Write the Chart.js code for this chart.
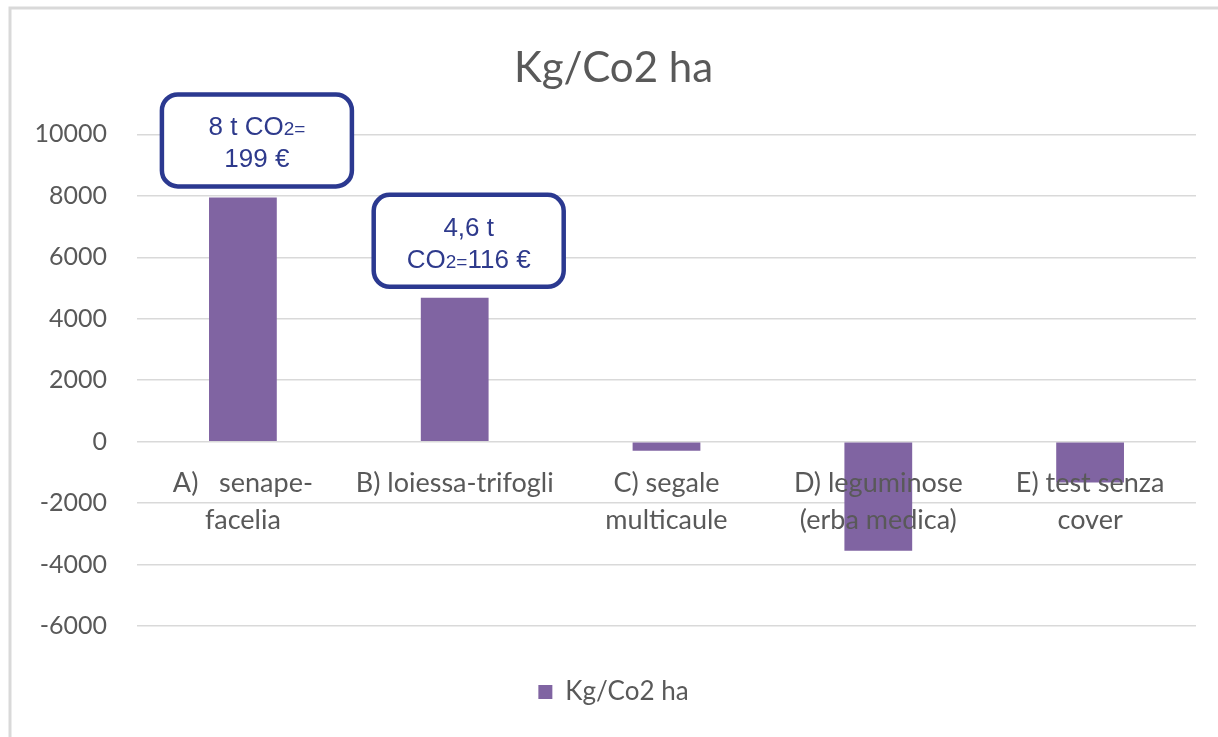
<!DOCTYPE html>
<html>
<head>
<meta charset="utf-8">
<script src="https://cdn.jsdelivr.net/npm/chart.js@4/dist/chart.umd.min.js"></script>
<style>
  html, body { margin: 0; padding: 0; background: #ffffff; }
  #wrap { width: 1218px; height: 737px; }
</style>
</head>
<body>
<div id="wrap"><canvas id="c" width="1218" height="737"></canvas></div>
<script>
// ---- data ----
const chartTitle = 'Kg/Co2 ha';
const seriesName = 'Kg/Co2 ha';
const categories = [
  ['A)   senape-', 'facelia'],
  'B) loiessa-trifogli',
  ['C) segale', 'multicaule'],
  ['D) leguminose', '(erba medica)'],
  ['E) test senza', 'cover']
];
const values = [7950, 4680, -300, -3550, -1330];
const yMin = -6000;
const yMax = 10000;
const yStep = 2000;
// callout text for bars (bar index, lines; each line = segments [text, isSmall])
const calloutBars = [0, 1];
const calloutLines = [
  [[['8 t CO', 0], ['2=', 1]], [['199 €', 0]]],
  [[['4,6 t', 0]], [['CO', 0], ['2=', 1], ['116 €', 0]]]
];

const GRAY = '#595959';
const FONT = 'Lato, "Open Sans", sans-serif';

const frame = {
  id: 'frame',
  beforeDraw(chart) {
    const ctx = chart.ctx;
    ctx.save();
    ctx.fillStyle = '#ffffff';
    ctx.fillRect(0, 0, chart.width, chart.height);
    ctx.strokeStyle = '#d9d9d9';
    ctx.lineWidth = 3;
    ctx.strokeRect(10, 8, chart.width + 40, chart.height + 40);
    ctx.restore();
  }
};

const callouts = {
  id: 'callouts',
  afterDraw(chart) {
    const ctx = chart.ctx;
    const meta = chart.getDatasetMeta(0);
    ctx.save();
    calloutBars.forEach((bi, k) => {
      const bar = meta.data[bi];
      const w = 190, h = 92;
      const cx = bar.x + 14;
      const bottom = bar.y - 11;
      const top = bottom - h;
      ctx.beginPath();
      ctx.roundRect(cx - w / 2, top, w, h, 16);
      ctx.fillStyle = '#ffffff';
      ctx.fill();
      ctx.lineWidth = 4.5;
      ctx.strokeStyle = '#2B3990';
      ctx.stroke();
      ctx.fillStyle = '#2E3A8C';
      ctx.textBaseline = 'alphabetic';
      ctx.textAlign = 'left';
      calloutLines[k].forEach((line, li) => {
        const big = '26px "Liberation Sans", Arial, sans-serif';
        const small = '19px "Liberation Sans", Arial, sans-serif';
        let total = 0;
        line.forEach(([t, s]) => { ctx.font = s ? small : big; total += ctx.measureText(t).width; });
        let x = cx - total / 2;
        const y = top + 41 + li * 32;
        line.forEach(([t, s]) => {
          ctx.font = s ? small : big;
          ctx.fillText(t, x, y);
          x += ctx.measureText(t).width;
        });
      });
    });
    ctx.restore();
  }
};

new Chart(document.getElementById('c'), {
  type: 'bar',
  data: {
    labels: categories,
    datasets: [{
      label: seriesName,
      data: values,
      backgroundColor: '#8064A2',
      borderWidth: 0,
      categoryPercentage: 1,
      barPercentage: 0.32
    }]
  },
  options: {
    responsive: false,
    devicePixelRatio: 1,
    animation: false,
    layout: { padding: { left: 31, right: 22, top: 0, bottom: 22 } },
    plugins: {
      title: {
        display: true,
        text: chartTitle,
        color: GRAY,
        font: { family: FONT, size: 42, weight: 'normal', lineHeight: 1.2 },
        padding: { top: 43, bottom: 41 }
      },
      legend: {
        position: 'bottom',
        title: { display: true, text: ' ', font: { size: 1, lineHeight: 1 }, padding: { top: 42, bottom: 0 } },
        labels: {
          color: GRAY,
          font: { family: FONT, size: 26 },
          boxWidth: 14,
          boxHeight: 14,
          padding: 10
        }
      },
      tooltip: { enabled: false }
    },
    scales: {
      x: {
        type: 'category',
        position: { y: 0 },
        grid: { display: false, drawTicks: false },
        border: { display: false },
        ticks: {
          z: 1,
          color: GRAY,
          font: { family: FONT, size: 27, lineHeight: 1.37 },
          padding: 23,
          maxRotation: 0,
          autoSkip: false
        }
      },
      y: {
        min: yMin,
        max: yMax,
        grid: { color: '#d9d9d9', lineWidth: 1.5, drawTicks: false },
        border: { display: false },
        ticks: {
          stepSize: yStep,
          color: GRAY,
          font: { family: FONT, size: 25 },
          padding: 30,
          callback: (v) => String(v)
        },
        afterFit(scale) { scale.width = 106; }
      }
    }
  },
  plugins: [frame, callouts]
});
</script>
</body>
</html>
